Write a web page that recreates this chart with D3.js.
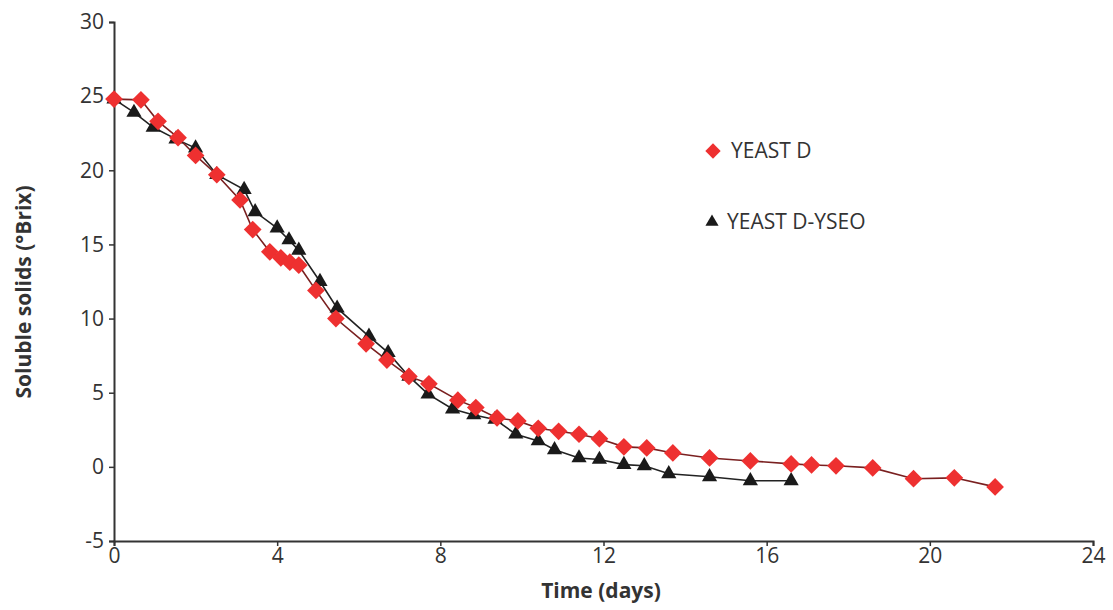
<!DOCTYPE html>
<html>
<head>
<meta charset="utf-8">
<script src="https://cdn.jsdelivr.net/npm/d3@7"></script>
<style>
  body { margin: 0; background: #fff; }
  svg text { font-family: "Open Sans", "Liberation Sans", sans-serif; fill: #333; }
</style>
</head>
<body>
<svg id="chart" width="1113" height="610"></svg>
<script>
// YEAST D (red diamonds)
var dayD = [0, 0.66, 1.08, 1.57, 2.0, 2.52, 3.09, 3.4, 3.82, 4.09, 4.31, 4.53, 4.95, 5.44, 6.18, 6.69, 7.23, 7.72, 8.43, 8.87, 9.39, 9.9, 10.4, 10.9, 11.4, 11.9, 12.5, 13.06, 13.7, 14.6, 15.6, 16.6, 17.1, 17.7, 18.6, 19.6, 20.6, 21.6];
var brixD = [24.8, 24.75, 23.3, 22.2, 21.0, 19.7, 18.0, 16.0, 14.5, 14.1, 13.8, 13.6, 11.9, 10.0, 8.3, 7.2, 6.1, 5.6, 4.5, 4.0, 3.3, 3.1, 2.6, 2.4, 2.2, 1.9, 1.35, 1.28, 0.94, 0.6, 0.4, 0.2, 0.13, 0.07, -0.07, -0.8, -0.74, -1.35];

// YEAST D-YSEO (black triangles)
var dayY = [0, 0.49, 0.96, 1.52, 2.0, 2.52, 3.19, 3.46, 4.0, 4.29, 4.53, 5.05, 5.47, 6.25, 6.72, 7.23, 7.7, 8.3, 8.82, 9.34, 9.85, 10.4, 10.8, 11.4, 11.9, 12.5, 13.0, 13.6, 14.6, 15.6, 16.6];
var brixY = [24.8, 23.9, 22.9, 22.1, 21.5, 19.7, 18.7, 17.2, 16.1, 15.3, 14.6, 12.5, 10.7, 8.8, 7.7, 6.1, 4.9, 3.9, 3.5, 3.2, 2.2, 1.75, 1.15, 0.6, 0.5, 0.15, 0.07, -0.47, -0.67, -0.94, -0.94];

var xTicks = [0, 4, 8, 12, 16, 20, 24];
var yTicks = [-5, 0, 5, 10, 15, 20, 25, 30];
var seriesNames = ["YEAST D", "YEAST D-YSEO"];

var svg = d3.select("#chart");
var mLeft = 114, mRight = 1093, mTop = 22, mBottom = 541;

var x = d3.scaleLinear().domain([0, 24]).range([mLeft, mRight]);
var y = d3.scaleLinear().domain([-5, 30]).range([mBottom, mTop]);

// axes (plain hyphen for negatives, like the original)
var fmt = function(d) { return String(d); };
var yAxis = svg.append("g")
  .attr("transform", "translate(" + mLeft + ",0)")
  .call(d3.axisLeft(y).tickValues(yTicks).tickFormat(fmt).tickSize(5).tickPadding(5));
var xAxis = svg.append("g")
  .attr("transform", "translate(0," + mBottom + ")")
  .call(d3.axisBottom(x).tickValues(xTicks).tickFormat(fmt).tickSize(5).tickPadding(2));

[yAxis, xAxis].forEach(function(g) {
  g.select(".domain").attr("stroke", "#333").attr("stroke-width", 2);
  g.selectAll(".tick line").attr("stroke", "#333").attr("stroke-width", 1.5);
  g.selectAll("text").style("font-size", "21px").style("font-family", "'Open Sans', sans-serif").attr("fill", "#333");
});

// axis titles
svg.append("text")
  .attr("transform", "translate(31,292) rotate(-90)")
  .attr("text-anchor", "middle")
  .style("font-size", "21px").style("font-weight", "bold")
  .text("Soluble solids (°Brix)");
svg.append("text")
  .attr("x", 601).attr("y", 598)
  .attr("text-anchor", "middle")
  .style("font-size", "21px").style("font-weight", "bold")
  .text("Time (days)");

var line = d3.line().x(function(d) { return x(d[0]); }).y(function(d) { return y(d[1]); });
var ptsD = dayD.map(function(d, i) { return [d, brixD[i]]; });
var ptsY = dayY.map(function(d, i) { return [d, brixY[i]]; });

var diamond = d3.symbol().type(d3.symbolDiamond2).size(200);
var triangle = d3.symbol().type(d3.symbolTriangle).size(100);

// black series first, red on top
svg.append("path").attr("d", line(ptsY)).attr("fill", "none").attr("stroke", "#222").attr("stroke-width", 1.6);
svg.append("path").attr("d", line(ptsD)).attr("fill", "none").attr("stroke", "#7a2020").attr("stroke-width", 1.6);

svg.selectAll(".tri").data(ptsY).enter().append("path")
  .attr("class", "tri")
  .attr("transform", function(d) { return "translate(" + x(d[0]) + "," + y(d[1]) + ")"; })
  .attr("d", triangle)
  .attr("fill", "#1a1a1a");

svg.selectAll(".dia").data(ptsD).enter().append("path")
  .attr("class", "dia")
  .attr("transform", function(d) { return "translate(" + x(d[0]) + "," + y(d[1]) + ")"; })
  .attr("d", diamond)
  .attr("fill", "#ee3030");

// legend
var legend = svg.append("g");
legend.append("path").attr("transform", "translate(713,151)").attr("d", d3.symbol().type(d3.symbolDiamond2).size(150)).attr("fill", "#ee3030");
legend.append("text").attr("x", 731).attr("y", 158).style("font-size", "21px").attr("fill", "#222").text(seriesNames[0]);
legend.append("path").attr("transform", "translate(712,222)").attr("d", d3.symbol().type(d3.symbolTriangle).size(75)).attr("fill", "#1a1a1a");
legend.append("text").attr("x", 727).attr("y", 229).style("font-size", "21px").attr("fill", "#222").text(seriesNames[1]);
</script>
</body>
</html>
